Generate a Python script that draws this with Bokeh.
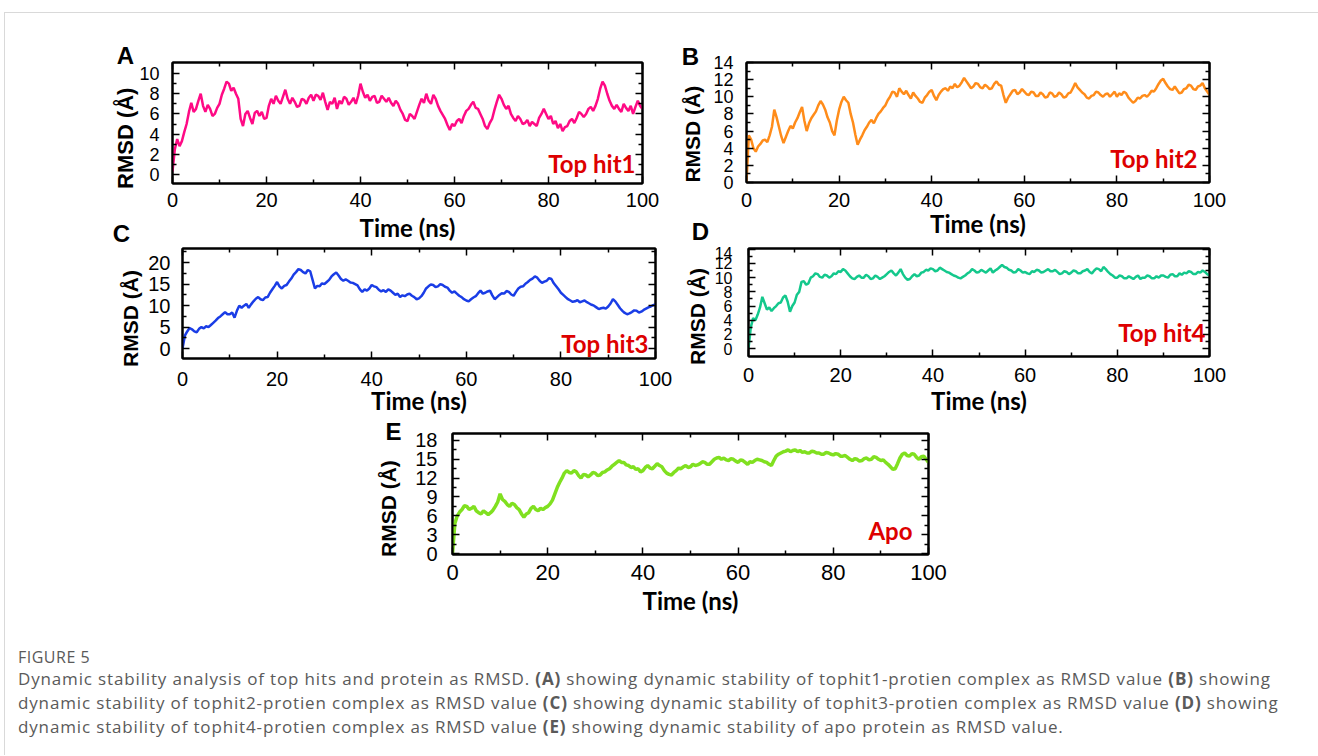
import math
from bokeh.plotting import figure
from bokeh.models import Range1d, FixedTicker, LinearAxis, Label, CustomJSTickFormatter, Div
from bokeh.layouts import column, row
from bokeh.embed import file_html
from bokeh.resources import INLINE

# ---------------- data (every 0.5 ns) ----------------
time_ns = [i * 0.5 for i in range(201)]

rmsd_hit1 = [0.3, 2.5, 3.5, 2.8, 3.3, 4.2, 5.0, 6.2, 7.1, 6.2,
             6.5, 7.3, 8.0, 6.8, 6.2, 6.9, 6.5, 5.8, 6.0, 6.6,
             7.0, 7.9, 8.5, 9.2, 9.0, 8.3, 8.6, 8.0, 7.5, 5.5,
             4.8, 6.0, 6.3, 5.6, 5.0, 6.1, 6.3, 5.8, 6.2, 5.5,
             5.6, 6.8, 7.5, 7.0, 7.8, 7.3, 7.0, 7.7, 8.4, 7.5,
             7.0, 7.6, 7.2, 6.7, 6.8, 7.5, 7.4, 7.0, 7.6, 7.9,
             7.3, 7.9, 7.8, 7.4, 8.1, 7.2, 6.4, 7.2, 7.0, 7.6,
             6.5, 7.3, 7.0, 7.7, 7.5, 6.9, 7.2, 7.6, 7.0, 7.8,
             9.0, 8.2, 7.6, 7.9, 7.3, 7.7, 7.8, 7.1, 7.2, 7.8,
             7.5, 7.2, 7.6, 7.1, 6.8, 7.3, 7.0, 6.4, 6.0, 5.4,
             5.3, 6.0, 5.8, 5.5, 6.2, 6.9, 7.5, 7.1, 8.0, 7.3,
             7.0, 7.9, 7.5, 6.8, 6.3, 5.9, 5.5, 4.9, 4.4, 5.0,
             4.8, 5.3, 5.5, 5.1, 5.8, 6.3, 6.5, 6.9, 7.2, 6.6,
             6.5, 6.0, 5.5, 4.8, 4.5, 5.1, 5.5, 6.4, 7.2, 7.9,
             7.5, 6.9, 6.5, 6.8, 6.0, 5.6, 5.3, 5.8, 5.5, 5.0,
             5.1, 5.4, 4.8, 5.2, 5.0, 4.8, 5.6, 6.0, 6.5, 6.0,
             5.5, 5.8, 5.0, 5.3, 4.6, 5.0, 4.3, 4.7, 4.8, 5.3,
             5.5, 5.1, 5.6, 6.2, 6.0, 5.7, 6.0, 6.5, 6.7, 6.3,
             6.8, 7.5, 8.5, 9.2, 8.8, 8.0, 7.3, 6.8, 6.5, 6.9,
             6.5, 6.2, 7.0, 6.6, 6.3, 6.8, 6.0, 6.7, 7.3, 6.8,
             6.5]

rmsd_hit2 = [0.0, 5.5, 5.0, 4.0, 3.6, 4.2, 4.5, 4.9, 5.0, 4.7,
             5.5, 6.5, 8.5, 7.6, 6.5, 5.4, 4.6, 5.3, 6.0, 6.6,
             6.3, 7.0, 7.5, 8.2, 8.8, 7.2, 6.0, 6.9, 7.5, 7.9,
             8.3, 9.0, 9.5, 9.1, 8.5, 7.6, 7.0, 6.0, 5.5, 7.2,
             8.5, 9.4, 10.0, 9.6, 9.3, 8.0, 7.0, 5.6, 4.4, 5.0,
             5.5, 6.1, 6.5, 7.0, 7.3, 6.9, 7.5, 8.0, 8.3, 8.7,
             9.0, 9.6, 10.0, 10.6, 10.5, 10.0, 11.0, 10.6, 10.3, 10.7,
             10.2, 9.8, 10.5, 10.1, 9.8, 9.4, 9.3, 9.9, 10.2, 10.6,
             10.8, 10.1, 9.6, 10.2, 10.6, 10.9, 11.0, 10.7, 11.2, 11.0,
             11.5, 11.1, 11.3, 11.7, 12.2, 11.8, 11.4, 11.0, 11.2, 11.6,
             11.5, 11.1, 11.0, 11.4, 11.2, 10.9, 11.0, 11.5, 11.8, 11.4,
             11.3, 10.2, 9.3, 9.9, 10.3, 10.7, 10.8, 10.3, 10.5, 10.9,
             10.6, 10.3, 10.2, 10.6, 10.5, 10.1, 10.1, 10.5, 10.3, 9.9,
             10.0, 10.5, 10.4, 10.0, 10.1, 10.5, 10.3, 9.9, 10.0, 10.4,
             10.5, 11.0, 11.6, 11.1, 10.8, 10.5, 10.3, 9.9, 9.8, 10.1,
             10.2, 10.6, 10.5, 10.2, 10.0, 10.3, 10.4, 10.0, 10.3, 10.6,
             10.0, 10.4, 10.2, 10.6, 10.4, 9.9, 9.6, 9.3, 9.5, 9.9,
             9.8, 10.1, 10.2, 10.0, 10.3, 10.7, 10.6, 11.0, 11.5, 11.9,
             12.1, 11.6, 11.2, 10.9, 10.8, 11.2, 10.8, 10.4, 10.5, 10.9,
             11.0, 11.4, 11.3, 10.9, 10.8, 11.2, 11.3, 11.6, 11.0, 10.6,
             10.2]

rmsd_hit3 = [0.0, 3.0, 4.0, 4.8, 4.5, 4.0, 3.8, 4.6, 5.0, 4.7,
             5.2, 5.0, 5.5, 6.0, 6.5, 7.1, 7.5, 8.0, 8.5, 8.0,
             8.0, 8.4, 7.2, 8.8, 10.0, 9.5, 10.0, 10.4, 9.5, 10.3,
             11.0, 11.6, 12.0, 11.5, 11.3, 11.9, 12.0, 13.0, 13.8, 14.6,
             15.5, 14.5, 14.0, 14.6, 14.8, 15.6, 16.3, 17.2, 17.8, 18.5,
             18.3, 17.8, 17.5, 18.3, 18.0, 16.0, 14.0, 14.6, 14.5, 15.2,
             15.0, 15.5, 16.0, 16.8, 17.3, 17.7, 17.0, 16.2, 15.8, 16.1,
             15.8, 15.4, 15.3, 15.0, 14.7, 13.8, 13.2, 13.8, 13.5, 14.0,
             14.8, 14.5, 14.3, 13.7, 13.3, 13.6, 13.2, 13.8, 13.5, 13.0,
             12.5, 12.8, 12.0, 12.4, 12.2, 12.6, 12.8, 12.3, 12.0, 11.5,
             11.7, 12.2, 13.0, 14.0, 14.5, 14.9, 14.8, 14.3, 14.5, 15.0,
             14.8, 14.4, 14.2, 13.5, 13.0, 13.3, 12.8, 12.3, 12.0, 11.5,
             11.2, 11.0, 11.5, 11.9, 12.2, 12.9, 13.5, 12.8, 13.0, 13.3,
             13.5, 12.4, 11.5, 12.0, 12.5, 12.9, 12.8, 13.4, 13.2, 12.6,
             12.3, 13.2, 14.0, 14.4, 14.5, 15.1, 15.5, 16.0, 16.3, 16.8,
             16.5, 15.8, 15.3, 15.6, 15.8, 16.4, 16.2, 15.2, 14.5, 13.8,
             13.0, 12.5, 12.0, 11.5, 11.2, 10.9, 11.0, 11.3, 10.8, 11.0,
             11.2, 10.8, 10.5, 10.2, 10.0, 9.6, 9.2, 9.4, 9.5, 9.3,
             9.8, 10.5, 11.5, 11.0, 10.2, 9.4, 8.8, 8.3, 8.0, 8.2,
             8.5, 8.9, 8.8, 8.4, 8.6, 9.0, 9.3, 9.6, 9.8, 10.1,
             10.3]

rmsd_hit4 = [0.0, 3.0, 4.3, 4.0, 4.8, 5.8, 7.3, 6.4, 5.5, 5.8,
             5.3, 5.7, 6.0, 6.4, 6.5, 7.2, 7.5, 6.6, 5.2, 6.0,
             6.5, 7.6, 8.0, 9.4, 9.5, 9.0, 9.2, 10.0, 10.2, 10.6,
             10.5, 10.1, 10.0, 10.4, 10.3, 10.0, 10.2, 10.6, 10.5, 10.9,
             10.8, 11.2, 11.0, 10.6, 10.2, 9.9, 9.8, 10.1, 10.3, 10.0,
             10.0, 10.4, 10.2, 9.8, 9.9, 10.3, 10.1, 9.8, 10.0, 10.2,
             10.5, 10.8, 11.0, 10.6, 10.3, 10.7, 11.2, 10.5, 10.0, 9.7,
             9.8, 10.2, 10.5, 10.2, 10.3, 10.7, 10.8, 11.1, 11.0, 11.3,
             11.2, 10.9, 11.0, 11.4, 11.2, 11.0, 10.8, 10.7, 10.5, 10.3,
             10.2, 10.0, 9.9, 10.1, 10.3, 10.6, 10.8, 11.2, 11.0, 10.7,
             10.8, 11.1, 10.9, 10.7, 11.0, 11.3, 10.7, 11.0, 11.2, 11.5,
             11.8, 11.5, 11.4, 11.1, 11.0, 10.7, 10.8, 11.2, 11.0, 10.7,
             10.8, 10.6, 10.5, 10.9, 10.8, 11.1, 11.0, 10.7, 10.8, 11.0,
             11.2, 10.9, 10.9, 11.1, 10.8, 10.5, 10.6, 10.9, 10.8, 10.5,
             10.7, 11.0, 10.9, 10.6, 10.6, 10.9, 11.0, 11.2, 10.8, 10.6,
             11.0, 11.3, 11.2, 10.9, 11.5, 11.2, 10.8, 10.5, 10.3, 10.0,
             10.0, 10.3, 10.2, 9.9, 9.9, 10.2, 10.0, 9.8, 10.1, 10.3,
             9.8, 10.0, 10.0, 10.3, 10.2, 9.9, 9.9, 10.2, 10.0, 10.3,
             10.3, 10.1, 10.0, 10.4, 10.5, 10.2, 10.2, 10.6, 10.4, 10.7,
             10.6, 10.9, 10.8, 10.5, 10.5, 10.8, 10.7, 11.0, 10.8, 10.5,
             10.3]

rmsd_apo = [0.0, 4.8, 6.0, 6.6, 7.0, 7.6, 7.5, 7.0, 7.2, 7.5,
            6.8, 6.5, 6.3, 6.8, 6.5, 6.2, 6.5, 6.9, 7.5, 8.2,
            9.5, 8.6, 8.3, 7.8, 7.5, 8.0, 7.8, 7.3, 7.0, 6.3,
            5.8, 6.3, 6.5, 7.2, 7.5, 7.0, 6.8, 7.2, 7.0, 7.3,
            7.5, 7.9, 8.5, 9.5, 10.5, 11.3, 12.0, 12.8, 13.2, 12.9,
            12.8, 13.2, 13.0, 12.4, 12.0, 12.6, 12.5, 12.2, 12.5, 12.9,
            12.8, 12.4, 12.5, 12.9, 13.0, 13.3, 13.5, 13.9, 14.2, 14.5,
            14.8, 14.5, 14.5, 14.1, 14.0, 13.7, 13.8, 13.4, 13.5, 13.0,
            13.2, 13.7, 14.0, 13.6, 13.5, 13.9, 14.3, 14.0, 13.8, 13.2,
            12.8, 12.6, 12.5, 12.9, 13.2, 13.6, 13.5, 13.8, 14.0, 13.7,
            13.8, 14.2, 14.0, 14.1, 14.3, 14.6, 14.5, 14.2, 14.2, 14.6,
            15.0, 15.2, 15.3, 15.0, 15.2, 14.9, 14.8, 15.1, 15.0, 14.7,
            14.5, 14.9, 14.8, 14.5, 14.2, 14.6, 14.5, 14.8, 15.0, 14.9,
            14.8, 14.6, 14.5, 14.2, 14.0, 14.8, 15.5, 15.8, 16.0, 16.2,
            16.3, 16.5, 16.2, 16.4, 16.5, 16.2, 16.4, 16.1, 16.2, 16.0,
            16.0, 16.3, 16.2, 16.0, 16.0, 15.8, 15.8, 16.1, 16.0, 15.8,
            15.7, 15.9, 15.8, 15.5, 15.5, 15.6, 15.3, 15.0, 14.8, 15.1,
            15.0, 14.7, 14.8, 15.1, 15.2, 14.9, 15.0, 15.4, 15.3, 15.0,
            14.8, 14.9, 14.5, 14.2, 13.8, 13.4, 13.5, 14.3, 15.2, 15.8,
            16.0, 15.6, 15.5, 15.9, 15.8, 15.3, 15.0, 15.4, 15.5, 15.0,
            14.5]

panel_names = ["Top hit1", "Top hit2", "Top hit3", "Top hit4", "Apo"]
panel_letters = ["A", "B", "C", "D", "E"]
y_title = "RMSD (Å)"
x_title = "Time (ns)"
x_ticks = [0, 20, 40, 60, 80, 100]
x_minor = [10, 30, 50, 70, 90]
y_ticks_A = [0, 2, 4, 6, 8, 10]
y_minor_A = [1, 3, 5, 7, 9]
y_ticks_B = [0, 2, 4, 6, 8, 10, 12, 14]
y_minor_B = [1, 3, 5, 7, 9, 11, 13]
y_ticks_C = [0, 5, 10, 15, 20]
y_minor_C = [2.5, 7.5, 12.5, 17.5, 22.5]
y_ticks_D = [0, 2, 4, 6, 8, 10, 12, 14]
y_minor_D = [1, 3, 5, 7, 9, 11, 13]
y_ticks_E = [0, 3, 6, 9, 12, 15, 18]
y_minor_E = [1.5, 4.5, 7.5, 10.5, 13.5, 16.5]

caption_title = "FIGURE 5"
caption_lines = [
    "Dynamic stability analysis of top hits and protein as RMSD. <b>(A)</b> showing dynamic stability of tophit1-protien complex as RMSD value <b>(B)</b> showing",
    "dynamic stability of tophit2-protien complex as RMSD value <b>(C)</b> showing dynamic stability of tophit3-protien complex as RMSD value <b>(D)</b> showing",
    "dynamic stability of tophit4-protien complex as RMSD value <b>(E)</b> showing dynamic stability of apo protein as RMSD value.",
]

# ---------------- layout specs (image pixel coordinates) ----------------
AX_FONT = "Liberation Sans"
TXT_FONT = "Lato"
RED = "#dd0000"
NB = "\u00a0"

# ylab: None -> y title is the axis label; (x, y) -> rotated label placed there
specs = [
    dict(data=rmsd_hit1, color="#ff0a85", lw=2.5, cx=5, cy=13, cw=671, ch=233,
         fl=172, ft=60, fr=642, fb=181, yr=(-0.9, 11.1), yt=y_ticks_A, ym=y_minor_A,
         yfs=18, ystand=13, xfs=20, xstand=9, tstand=3, ylfs=22, ylstand=-2, pad=5,
         ylab=None, name=(635, 161)),
    dict(data=rmsd_hit2, color="#ff8c1a", lw=2.5, cx=676, cy=13, cw=563, ch=233,
         fl=746, ft=62, fr=1209, fb=182, yr=(0, 14), yt=y_ticks_B, ym=y_minor_B,
         yfs=18, ystand=13, xfs=20, xstand=10, tstand=-1, ylfs=21, ylstand=6, pad=4,
         ylab=None, name=(1197, 158)),
    dict(data=rmsd_hit3, color="#1a3de6", lw=2.5, cx=5, cy=246, cw=675, ch=171,
         fl=182, ft=248, fr=655, fb=358, yr=(-2.3, 23.3), yt=y_ticks_C, ym=y_minor_C,
         yfs=20, ystand=12, xfs=20, xstand=13, tstand=-3, ylfs=21, ylstand=3, pad=0,
         ylab=(130, 318), name=(648, 343)),
    dict(data=rmsd_hit4, color="#14c88c", lw=2.5, cx=680, cy=246, cw=559, ch=171,
         fl=748, ft=248, fr=1209, fb=356, yr=(-1.1, 14.1), yt=y_ticks_D, ym=y_minor_D,
         yfs=16, ystand=16, xfs=20, xstand=11, tstand=1, ylfs=21, ylstand=4, pad=0,
         ylab=(697, 316), name=(1205, 332)),
    dict(data=rmsd_apo, color="#80e020", lw=3.5, cx=5, cy=417, cw=963, ch=208,
         fl=452, ft=433, fr=928, fb=554, yr=(-0.15, 19.1), yt=y_ticks_E, ym=y_minor_E,
         yfs=20, ystand=15, xfs=22, xstand=10, tstand=3, ylfs=21, ylstand=12, pad=5,
         ylab=None, name=(912, 530)),
]


def to_data(s, ix, iy):
    x = (ix - s["fl"]) / (s["fr"] - s["fl"]) * 100
    y0, y1 = s["yr"]
    y = y0 + (s["fb"] - iy) / (s["fb"] - s["ft"]) * (y1 - y0)
    return x, y


def add_text(p, s, ix, iy, text, place=None, **kw):
    x, y = to_data(s, ix, iy)
    lab = Label(x=x, y=y, text=text, **kw)
    if place is None:
        p.add_layout(lab)
    else:
        p.add_layout(lab, place)


def style_axis(ax, ticks, minor, fs=None, standoff=0):
    ax.ticker = FixedTicker(ticks=ticks, minor_ticks=minor)
    ax.major_tick_in = 7
    ax.major_tick_out = 0
    ax.minor_tick_in = 4
    ax.minor_tick_out = 0
    ax.major_tick_line_color = "black"
    ax.minor_tick_line_color = "black"
    ax.major_tick_line_width = 1.5
    ax.minor_tick_line_width = 1.5
    ax.axis_line_color = "black"
    ax.axis_line_width = 2
    if fs is None:
        ax.formatter = CustomJSTickFormatter(code="return ''")
        ax.major_label_text_font_size = "0px"
        ax.major_label_standoff = 0
    else:
        ax.major_label_text_font = AX_FONT
        ax.major_label_text_font_size = f"{fs}px"
        ax.major_label_text_color = "black"
        ax.major_label_standoff = standoff


figs = []
for i, s in enumerate(specs):
    p = figure(
        frame_width=s["fr"] - s["fl"], frame_height=s["fb"] - s["ft"],
        min_border_left=s["fl"] - s["cx"], min_border_top=s["ft"] - s["cy"],
        min_border_right=s["cx"] + s["cw"] - s["fr"],
        min_border_bottom=s["cy"] + s["ch"] - s["fb"],
        x_range=Range1d(0, 100), y_range=Range1d(*s["yr"]),
        output_backend="svg", toolbar_location=None,
    )
    p.grid.visible = False
    p.outline_line_color = "black"
    p.outline_line_width = 2
    p.line(time_ns, s["data"], line_color=s["color"], line_width=s["lw"])

    xa = p.xaxis[0]
    style_axis(xa, x_ticks, x_minor, s["xfs"], s["xstand"])
    xa.axis_label = x_title
    xa.axis_label_text_font = TXT_FONT
    xa.axis_label_text_font_style = "bold"
    xa.axis_label_text_font_size = "24px"
    xa.axis_label_text_color = "black"
    xa.axis_label_standoff = s["tstand"]

    ya = p.yaxis[0]
    style_axis(ya, s["yt"], s["ym"], s["yfs"], s["ystand"])
    if s["ylab"] is None:
        ya.axis_label = y_title + NB * s["pad"]
        ya.axis_label_text_font = AX_FONT
        ya.axis_label_text_font_style = "bold"
        ya.axis_label_text_font_size = f"{s['ylfs']}px"
        ya.axis_label_text_color = "black"
        ya.axis_label_standoff = s["ylstand"]
    else:
        add_text(p, s, s["ylab"][0], s["ylab"][1], y_title, place="left",
                 angle=math.pi / 2, text_font=AX_FONT, text_font_style="bold",
                 text_font_size=f"{s['ylfs']}px", text_align="center",
                 text_baseline="middle", text_color="black")

    top = LinearAxis()
    style_axis(top, x_ticks, x_minor)
    p.add_layout(top, "above")
    right = LinearAxis()
    style_axis(right, s["yt"], s["ym"])
    p.add_layout(right, "right")

    add_text(p, s, s["name"][0], s["name"][1], panel_names[i],
             text_font=TXT_FONT, text_font_style="bold", text_font_size="24px",
             text_align="right", text_baseline="middle", text_color=RED)
    figs.append(p)

letter_kw = dict(text_font=AX_FONT, text_font_style="bold", text_font_size="24px",
                 text_align="center", text_baseline="middle", text_color="black")
add_text(figs[0], specs[0], 125, 53, panel_letters[0], place="above", **letter_kw)
add_text(figs[1], specs[1], 690, 56, panel_letters[1], place="above", **letter_kw)
add_text(figs[0], specs[0], 121, 231, panel_letters[2], place="right", **letter_kw)
add_text(figs[1], specs[1], 700, 231, panel_letters[3], place="right", **letter_kw)
add_text(figs[4], specs[4], 393, 431, panel_letters[4], place="left", **letter_kw)

cap_html = (
    '<div style="font-family:\'Open Sans\',sans-serif;color:#5a5a5a;padding-left:8px;white-space:nowrap;">'
    f'<div style="font-size:16px;line-height:16px;margin-top:19px;letter-spacing:0.5px;">{caption_title}</div>'
    '<div style="font-size:17px;line-height:24px;margin-top:2px;letter-spacing:0.85px;">'
    + "<br>".join(caption_lines) +
    '</div></div>'
)
caption = Div(text=cap_html, width=1307, height=120)

layout = column(
    row(figs[0], figs[1], spacing=0),
    row(figs[2], figs[3], spacing=0),
    row(figs[4], spacing=0),
    caption,
    spacing=0,
    styles={"margin-top": "12px", "margin-left": "4px",
            "border-top": "1px solid #d9d9d9", "border-left": "1px solid #d9d9d9",
            "border-right": "1px solid #d9d9d9"},
)

open("out.html", "w").write(file_html(layout, INLINE))
